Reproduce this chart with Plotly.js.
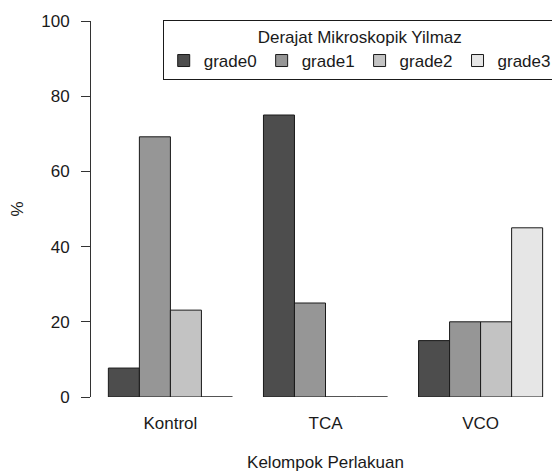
<!DOCTYPE html>
<html>
<head>
<meta charset="utf-8">
<script src="https://cdn.plot.ly/plotly-3.0.1.min.js"></script>
<style>
html,body{margin:0;padding:0;background:#fff;overflow:hidden;}
#wrap{width:552px;height:472px;overflow:hidden;}
</style>
</head>
<body>
<div id="wrap"><div id="chart"></div></div>
<script>
// Data
var groups = ["Kontrol", "TCA", "VCO"];
var seriesNames = ["grade0", "grade1", "grade2", "grade3"];
var grade0 = [7.7, 75, 15];
var grade1 = [69.2, 25, 20];
var grade2 = [23.1, 0, 20];
var grade3 = [0, 0, 45];
var seriesValues = [grade0, grade1, grade2, grade3];
var colors = ["#4D4D4D", "#969696", "#C3C3C3", "#E6E6E6"];
var legendTitle = "Derajat Mikroskopik Yilmaz";
var xTitle = "Kelompok Perlakuan";
var yTitle = "%";
var yTicks = [0, 20, 40, 60, 80, 100];

var FONT = "Liberation Sans, Arial, sans-serif";
var TXT = "#1a1a1a";

var traces = seriesNames.map(function(name, i) {
  return {
    type: "bar",
    name: name,
    x: groups,
    y: seriesValues[i],
    marker: {color: colors[i], line: {color: "#1a1a1a", width: 1}},
    hoverinfo: "x+y+name"
  };
});

var layout = {
  width: 560,
  height: 472,
  margin: {l: 91, r: 0, t: 20.7, b: 74.7, pad: 0},
  paper_bgcolor: "#ffffff",
  plot_bgcolor: "#ffffff",
  font: {family: FONT, size: 17, color: TXT},
  barmode: "group",
  bargap: 0.2,
  bargroupgap: 0,
  showlegend: true,
  legend: {
    orientation: "h",
    x: 0.993, xanchor: "right",
    y: 1.003, yanchor: "top",
    bordercolor: "#1a1a1a",
    borderwidth: 1,
    bgcolor: "#ffffff",
    font: {family: FONT, size: 17, color: TXT},
    title: {text: legendTitle, side: "top center", font: {family: FONT, size: 17, color: TXT}},
    traceorder: "normal"
  },
  xaxis: {
    type: "category",
    range: [-0.512, 2.512],
    showline: false,
    showgrid: false,
    zeroline: false,
    ticks: "",
    ticklabelstandoff: 14,
    tickfont: {family: FONT, size: 17, color: TXT},
    title: {text: xTitle, standoff: 24, font: {family: FONT, size: 17, color: TXT}},
    automargin: true,
    fixedrange: true
  },
  yaxis: {
    range: [0, 100],
    tickmode: "array",
    tickvals: yTicks,
    ticktext: yTicks.map(String),
    showline: true,
    linecolor: "#333333",
    linewidth: 1,
    ticks: "outside",
    ticklen: 9,
    tickcolor: "#333333",
    tickwidth: 1,
    ticklabelstandoff: 8,
    showgrid: false,
    zeroline: false,
    tickfont: {family: FONT, size: 17, color: TXT},
    title: {text: yTitle, standoff: 13, font: {family: FONT, size: 17, color: TXT}},
    automargin: true,
    fixedrange: true
  }
};

Plotly.newPlot("chart", traces, layout, {displayModeBar: false, staticPlot: true});
</script>
</body>
</html>
